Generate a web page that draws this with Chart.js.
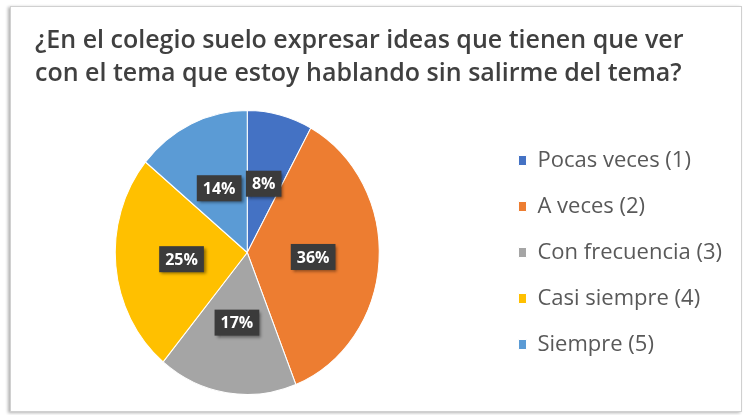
<!DOCTYPE html>
<html>
<head>
<meta charset="utf-8">
<script src="https://cdn.jsdelivr.net/npm/chart.js@4"></script>
<style>
  html, body { margin: 0; padding: 0; background: #ffffff; }
  body { width: 744px; height: 415px; position: relative; overflow: hidden; }
  #frame {
    position: absolute; left: 10px; top: 6px; width: 730px; height: 404px;
    border: 1px solid #d0d0d0; background: #fff;
    box-shadow: -2px 1px 3px rgba(0, 0, 0, 0.3);
  }
  #wrap { position: absolute; left: 0; top: 0; width: 744px; height: 415px; }
</style>
</head>
<body>
<div id="frame"></div>
<div id="wrap"><canvas id="pieChart" width="744" height="415"></canvas></div>
<script>
const titleLines = [
  "¿En el colegio suelo expresar ideas que tienen que ver",
  "con el tema que estoy hablando sin salirme del tema?"
];
const categories = [
  "Pocas veces (1)",
  "A veces (2)",
  "Con frecuencia (3)",
  "Casi siempre (4)",
  "Siempre (5)"
];
const percentages = [8, 36, 17, 25, 14];
const sliceColors = ["#4472C4", "#ED7D31", "#A5A5A5", "#FFC000", "#5B9BD5"];

// la imagen original esta algo estirada en vertical
const stretchY = 1.076;

function pieCenter(chart) {
  const arc = chart.getDatasetMeta(0).data[0];
  return { x: arc.x, y: arc.y };
}

// titulo dibujado a mano para poder alinearlo a la izquierda
const titlePlugin = {
  id: "titleLines",
  afterDraw(chart) {
    const ctx = chart.ctx;
    ctx.save();
    ctx.fillStyle = "#404040";
    ctx.font = "600 25px 'Open Sans'";
    ctx.textAlign = "left";
    ctx.textBaseline = "alphabetic";
    titleLines.forEach((line, i) => {
      ctx.fillText(line, 35, 48 + i * 33);
    });
    ctx.restore();
  }
};

const stretchPlugin = {
  id: "stretch",
  beforeDatasetsDraw(chart) {
    const c = pieCenter(chart);
    chart.ctx.save();
    chart.ctx.translate(c.x, c.y);
    chart.ctx.scale(1, stretchY);
    chart.ctx.translate(-c.x, -c.y);
  },
  afterDatasetsDraw(chart) {
    chart.ctx.restore();
  }
};

// etiquetas de porcentaje con caja oscura
const labelPlugin = {
  id: "pctLabels",
  afterDatasetsDraw(chart) {
    const ctx = chart.ctx;
    const meta = chart.getDatasetMeta(0);
    const c = pieCenter(chart);
    ctx.save();
    ctx.font = "bold 16px 'Open Sans'";
    ctx.textAlign = "center";
    ctx.textBaseline = "middle";
    meta.data.forEach((arc, i) => {
      const pos = arc.tooltipPosition();
      const x = pos.x;
      const y = c.y + (pos.y - c.y) * stretchY;
      const text = percentages[i] + "%";
      const w = ctx.measureText(text).width + 12;
      const h = 26;
      ctx.shadowColor = "rgba(0,0,0,0.45)";
      ctx.shadowBlur = 3;
      ctx.shadowOffsetX = 2;
      ctx.shadowOffsetY = 2;
      ctx.fillStyle = "#3b3b3b";
      ctx.fillRect(x - w / 2, y - h / 2, w, h);
      ctx.shadowColor = "transparent";
      ctx.fillStyle = "#ffffff";
      ctx.fillText(text, x, y + 1);
    });
    ctx.restore();
  }
};

const ctx = document.getElementById("pieChart").getContext("2d");
const pieChart = new Chart(ctx, {
  type: "pie",
  data: {
    labels: categories,
    datasets: [
      {
        data: percentages,
        backgroundColor: sliceColors,
        borderColor: "#ffffff",
        borderWidth: 1,
        hoverOffset: 0
      }
    ]
  },
  options: {
    responsive: false,
    animation: false,
    layout: {
      padding: { left: 0, right: 12, top: 120, bottom: 30 }
    },
    plugins: {
      title: { display: false },
      tooltip: { enabled: false },
      legend: {
        position: "right",
        labels: {
          boxWidth: 8,
          boxHeight: 10,
          padding: 24,
          color: "#595959",
          font: { family: "'Open Sans'", size: 22 }
        }
      }
    }
  },
  plugins: [titlePlugin, stretchPlugin, labelPlugin]
});
</script>
</body>
</html>
